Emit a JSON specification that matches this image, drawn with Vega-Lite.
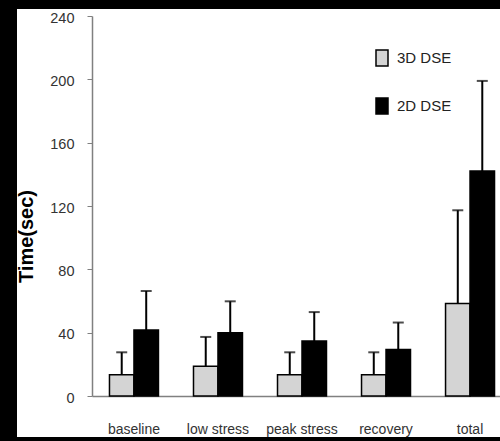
{
  "$schema": "https://vega.github.io/schema/vega-lite/v6.json",
  "width": 490,
  "height": 428,
  "autosize": {"type": "none"},
  "padding": {"left": 17, "top": 9, "right": 0, "bottom": 4},
  "background": "black",
  "config": {"view": {"fill": "white", "stroke": null}, "font": "Liberation Sans"},
  "data": {
    "values": [
      {"condition": "baseline", "series": "3D DSE", "mean": 13.5, "upper": 27.6},
      {"condition": "baseline", "series": "2D DSE", "mean": 41.7, "upper": 66.3},
      {"condition": "low stress", "series": "3D DSE", "mean": 18.8, "upper": 37.3},
      {"condition": "low stress", "series": "2D DSE", "mean": 40.0, "upper": 59.8},
      {"condition": "peak stress", "series": "3D DSE", "mean": 13.5, "upper": 27.6},
      {"condition": "peak stress", "series": "2D DSE", "mean": 34.7, "upper": 53.0},
      {"condition": "recovery", "series": "3D DSE", "mean": 13.5, "upper": 27.6},
      {"condition": "recovery", "series": "2D DSE", "mean": 29.3, "upper": 46.4},
      {"condition": "total", "series": "3D DSE", "mean": 58.5, "upper": 117.3},
      {"condition": "total", "series": "2D DSE", "mean": 142.1, "upper": 199.0}
    ]
  },
  "encoding": {
    "x": {
      "field": "condition",
      "type": "nominal",
      "sort": null,
      "scale": {"range": [75, 495], "paddingInner": 0.417, "paddingOuter": 0.208},
      "axis": {
        "title": null,
        "ticks": false,
        "offset": -41,
        "domainColor": "#808080",
        "domainWidth": 1.5,
        "labelAngle": 0,
        "labelFont": "Liberation Sans",
        "labelFontSize": 14,
        "labelColor": "#333333",
        "labelBaseline": "alphabetic",
        "labelPadding": 37
      }
    },
    "xOffset": {
      "field": "series",
      "type": "nominal",
      "scale": {"domain": ["3D DSE", "2D DSE"], "paddingInner": 0, "paddingOuter": 0}
    }
  },
  "layer": [
    {
      "mark": {"type": "bar", "stroke": "black", "strokeWidth": 1.5},
      "encoding": {
        "y": {
          "field": "mean",
          "type": "quantitative",
          "scale": {"domain": [0, 240], "range": [387, 7], "nice": false},
          "axis": {
            "title": "Time(sec)",
            "values": [0, 40, 80, 120, 160, 200, 240],
            "grid": false,
            "offset": -75,
            "tickSize": 5,
            "tickColor": "#808080",
            "domainColor": "#808080",
            "domainWidth": 1.5,
            "labelPadding": 13,
            "labelFont": "Liberation Sans",
            "labelFontSize": 14.5,
            "labelColor": "#333333",
            "labelOffset": 2,
            "titleFont": "Liberation Sans",
            "titleFontSize": 20,
            "titleFontWeight": "bold",
            "titleColor": "black",
            "titleAngle": 270,
            "titleAlign": "center",
            "titleBaseline": "alphabetic",
            "titleX": -60,
            "titleY": 227
          }
        },
        "fill": {
          "field": "series",
          "type": "nominal",
          "scale": {"domain": ["3D DSE", "2D DSE"], "range": ["#d4d4d4", "#000000"]},
          "legend": {
            "orient": "none",
            "legendX": 356,
            "legendY": 40,
            "title": null,
            "padding": 0,
            "symbolType": "M-0.75,-1H0.75V1H-0.75Z",
            "symbolSize": 256,
            "symbolStrokeColor": "black",
            "symbolStrokeWidth": 1.5,
            "symbolOpacity": 1,
            "labelFont": "Liberation Sans",
            "labelFontSize": 15,
            "labelColor": "#222222",
            "labelOffset": 6,
            "rowPadding": 26
          }
        }
      }
    },
    {
      "mark": {"type": "rule", "color": "black", "strokeWidth": 2},
      "encoding": {
        "y": {"field": "mean", "type": "quantitative"},
        "y2": {"field": "upper"}
      }
    },
    {
      "mark": {"type": "tick", "color": "black", "thickness": 2, "size": 11, "orient": "horizontal"},
      "encoding": {
        "y": {"field": "upper", "type": "quantitative"}
      }
    }
  ]
}
